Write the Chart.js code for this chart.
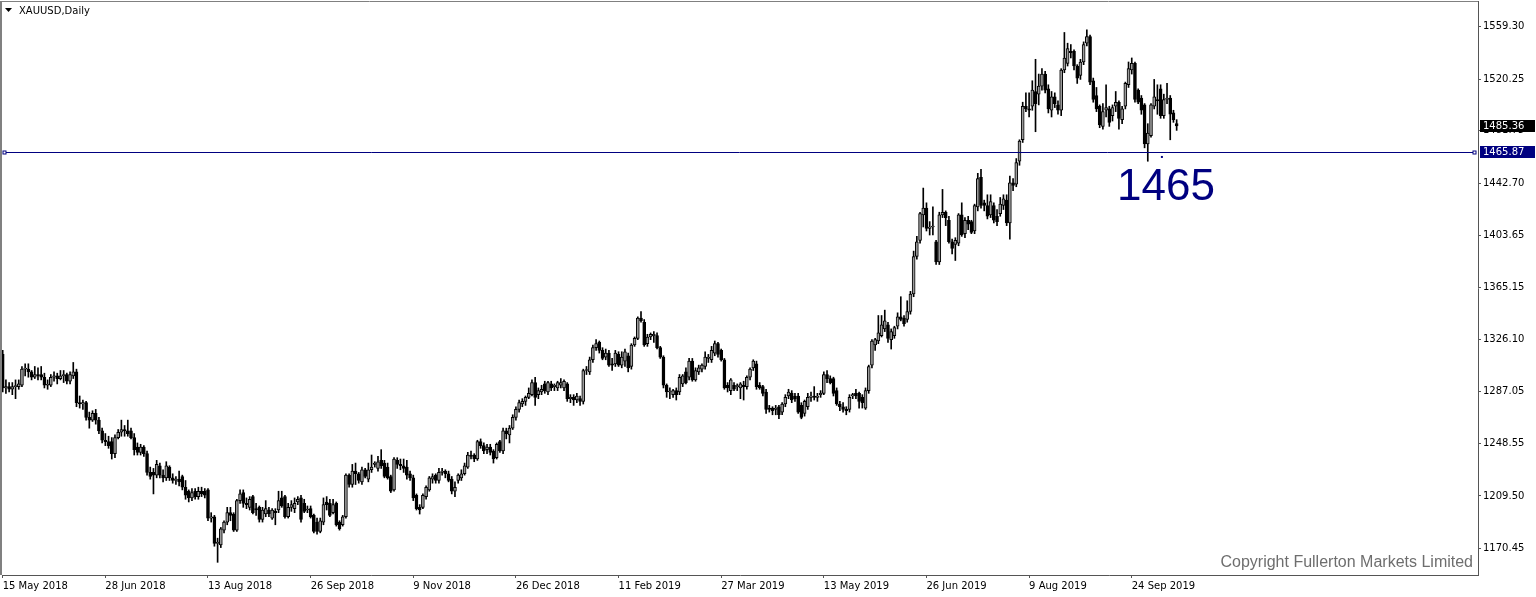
<!DOCTYPE html>
<html>
<head>
<meta charset="utf-8">
<title>XAUUSD, Daily</title>
<script src="https://cdn.jsdelivr.net/npm/chart.js@4.4.1/dist/chart.umd.min.js"></script>
<style>
  html, body { margin: 0; padding: 0; background: #fff; }
</style>
</head>
<body>
<canvas id="chart" width="1536" height="597"></canvas>
<script>
const symbolTitle = "XAUUSD,Daily";
const copyrightText = "Copyright Fullerton Markets Limited";

// bar index where a date label sits, and the label text
const dateTicks = [0, 32, 64, 96, 128, 160, 192, 224, 256, 288, 320, 352];
const dateLabels = ["15 May 2018", "28 Jun 2018", "13 Aug 2018", "26 Sep 2018", "9 Nov 2018", "26 Dec 2018",
  "11 Feb 2019", "27 Mar 2019", "13 May 2019", "26 Jun 2019", "9 Aug 2019", "24 Sep 2019"];
const priceTicks = [1559.30, 1520.25, 1481.75, 1442.70, 1403.65, 1365.15, 1326.10, 1287.05, 1248.55, 1209.50, 1170.45];

// daily candles, one value per trading day
const opens = [
  1315,1290,1291,1289,1291,1291,1292,1304,1304,1302,
  1298,1300,1300,1298,1292,1292,1298,1299,1297,1299,
  1300,1295,1299,1302,1279,1278,1279,1268,1266,1271,
  1266,1258,1251,1250,1250,1241,1253,1257,1259,1258,
  1258,1253,1246,1242,1246,1241,1227,1227,1225,1232,
  1225,1223,1231,1223,1221,1222,1224,1216,1213,1208,
  1213,1209,1213,1213,1214,1193,1194,1174,1173,1184,
  1190,1197,1196,1184,1206,1212,1204,1201,1209,1200,
  1201,1192,1196,1199,1193,1198,1199,1208,1209,1194,
  1201,1200,1205,1208,1204,1199,1200,1195,1190,1183,
  1190,1205,1204,1197,1204,1190,1188,1194,1225,1218,
  1228,1226,1220,1229,1222,1229,1233,1230,1236,1234,
  1231,1224,1214,1236,1233,1232,1231,1226,1223,1210,
  1201,1201,1209,1214,1222,1225,1221,1227,1228,1226,
  1222,1213,1221,1223,1226,1231,1240,1240,1237,1250,
  1247,1244,1246,1243,1238,1250,1243,1258,1255,1260,
  1268,1274,1278,1280,1283,1285,1294,1285,1287,1293,
  1287,1293,1291,1290,1292,1290,1293,1282,1283,1281,
  1282,1280,1303,1302,1311,1320,1324,1318,1313,1316,
  1308,1308,1315,1307,1310,1314,1306,1322,1327,1342,
  1339,1323,1328,1329,1329,1320,1313,1292,1287,1285,
  1288,1287,1293,1302,1298,1310,1296,1302,1304,1306,
  1312,1311,1316,1323,1318,1311,1292,1288,1292,1291,
  1290,1292,1291,1298,1305,1308,1292,1291,1287,1275,
  1275,1274,1276,1272,1278,1284,1286,1284,1284,1277,
  1271,1276,1283,1284,1283,1285,1286,1300,1297,1297,
  1288,1278,1276,1274,1274,1284,1286,1286,1283,1275,
  1288,1307,1322,1325,1329,1334,1337,1326,1329,1336,
  1343,1342,1341,1347,1360,1388,1400,1419,1424,1409,
  1410,1399,1384,1419,1421,1415,1399,1397,1398,1419,
  1405,1415,1414,1407,1425,1447,1428,1426,1419,1426,
  1418,1420,1426,1430,1413,1443,1442,1459,1475,1500,
  1498,1500,1511,1509,1515,1524,1513,1497,1507,1501,
  1497,1527,1532,1541,1541,1530,1523,1533,1547,1552,
  1519,1508,1500,1485,1497,1498,1493,1500,1503,1490,
  1500,1516,1527,1532,1512,1506,1501,1472,1478,1500,
  1505,1513,1493,1505,1506,1495,1487
];
const highs = [
  1318,1296,1294,1294,1296,1296,1306,1308,1308,1303,
  1306,1305,1306,1301,1296,1300,1302,1301,1303,1303,
  1301,1302,1309,1304,1284,1281,1280,1272,1273,1274,
  1268,1260,1256,1254,1253,1255,1259,1266,1262,1266,
  1260,1256,1249,1248,1247,1243,1231,1230,1236,1234,
  1229,1235,1232,1226,1224,1228,1225,1221,1214,1215,
  1215,1216,1216,1215,1215,1197,1195,1178,1186,1191,
  1201,1201,1197,1207,1214,1214,1208,1209,1210,1204,
  1202,1201,1206,1201,1200,1200,1213,1213,1210,1204,
  1206,1208,1209,1210,1207,1202,1202,1196,1193,1193,
  1208,1209,1207,1207,1205,1191,1195,1226,1226,1233,
  1234,1227,1231,1230,1234,1240,1235,1239,1244,1236,
  1234,1225,1238,1238,1237,1237,1236,1228,1225,1211,
  1203,1211,1217,1224,1226,1226,1230,1230,1229,1228,
  1224,1220,1226,1229,1234,1242,1243,1241,1251,1252,
  1249,1248,1248,1244,1249,1251,1260,1260,1262,1270,
  1276,1281,1282,1284,1290,1296,1298,1290,1292,1295,
  1295,1295,1293,1295,1297,1296,1294,1285,1285,1286,
  1284,1304,1306,1313,1322,1326,1325,1320,1319,1318,
  1312,1318,1317,1317,1319,1316,1323,1328,1343,1347,
  1341,1330,1331,1332,1331,1321,1314,1293,1290,1289,
  1290,1300,1300,1305,1312,1312,1305,1307,1308,1317,
  1315,1321,1325,1324,1319,1312,1294,1297,1294,1293,
  1294,1295,1299,1305,1311,1310,1294,1292,1289,1277,
  1276,1277,1277,1279,1285,1289,1288,1286,1286,1279,
  1281,1286,1287,1291,1286,1288,1302,1303,1299,1298,
  1290,1280,1279,1276,1285,1286,1289,1287,1285,1290,
  1307,1326,1327,1344,1344,1348,1339,1334,1336,1346,
  1358,1344,1355,1362,1392,1403,1421,1439,1428,1414,
  1425,1400,1421,1438,1422,1418,1401,1402,1420,1428,
  1417,1418,1415,1427,1450,1453,1430,1434,1434,1428,
  1423,1432,1434,1434,1448,1446,1461,1475,1503,1510,
  1510,1519,1535,1524,1528,1526,1516,1511,1510,1504,
  1528,1555,1547,1546,1542,1531,1535,1548,1557,1553,
  1521,1514,1501,1502,1516,1500,1501,1511,1504,1500,
  1518,1533,1536,1533,1513,1508,1502,1487,1502,1520,
  1516,1516,1509,1517,1508,1497,1490
];
const lows = [
  1287,1286,1287,1285,1282,1289,1291,1299,1298,1296,
  1297,1296,1296,1290,1289,1291,1295,1293,1296,1294,
  1293,1293,1297,1276,1275,1274,1266,1260,1265,1263,
  1256,1249,1247,1245,1237,1238,1252,1254,1254,1254,
  1252,1240,1240,1240,1239,1225,1222,1211,1223,1223,
  1220,1221,1221,1219,1218,1217,1214,1207,1205,1206,
  1207,1207,1209,1208,1191,1190,1172,1160,1171,1182,
  1188,1191,1183,1183,1204,1201,1200,1199,1196,1195,
  1190,1190,1194,1194,1192,1188,1197,1201,1193,1193,
  1198,1197,1203,1190,1197,1197,1193,1182,1181,1182,
  1188,1199,1194,1196,1187,1184,1187,1193,1216,1216,
  1218,1219,1218,1223,1220,1227,1231,1228,1230,1223,
  1222,1212,1213,1230,1229,1227,1222,1221,1206,1199,
  1196,1200,1207,1213,1219,1219,1219,1225,1223,1220,
  1211,1209,1219,1221,1225,1230,1237,1235,1236,1245,
  1241,1241,1240,1234,1237,1242,1241,1252,1249,1259,
  1266,1272,1276,1277,1282,1284,1277,1282,1285,1286,
  1285,1288,1288,1288,1290,1288,1280,1279,1277,1279,
  1277,1278,1300,1300,1309,1318,1316,1311,1311,1306,
  1303,1306,1306,1305,1306,1302,1304,1321,1326,1339,
  1321,1321,1326,1324,1319,1312,1290,1283,1282,1283,
  1281,1285,1291,1293,1296,1295,1295,1300,1302,1304,
  1309,1309,1314,1313,1310,1289,1287,1285,1288,1288,
  1282,1281,1289,1296,1303,1289,1289,1284,1271,1272,
  1270,1270,1267,1270,1276,1282,1279,1280,1271,1267,
  1269,1274,1280,1281,1280,1283,1285,1294,1293,1284,
  1277,1273,1272,1270,1272,1282,1282,1275,1275,1274,
  1286,1305,1318,1323,1328,1332,1324,1319,1327,1334,
  1340,1336,1339,1345,1358,1386,1398,1410,1407,1404,
  1404,1382,1382,1417,1411,1398,1390,1385,1396,1403,
  1402,1408,1405,1405,1422,1424,1422,1416,1417,1413,
  1411,1418,1423,1411,1401,1437,1440,1456,1473,1496,
  1492,1497,1481,1501,1512,1510,1495,1492,1499,1494,
  1493,1525,1530,1536,1527,1517,1520,1531,1545,1516,
  1503,1496,1484,1483,1492,1485,1489,1496,1483,1487,
  1498,1514,1524,1503,1502,1494,1469,1459,1477,1498,
  1494,1491,1491,1502,1475,1488,1482
];
const closes = [
  1290,1291,1289,1291,1291,1293,1304,1304,1302,1298,
  1300,1299,1298,1292,1292,1298,1299,1297,1299,1300,
  1295,1300,1302,1279,1278,1279,1268,1266,1271,1266,
  1258,1251,1250,1247,1241,1253,1257,1259,1258,1256,
  1253,1244,1242,1246,1241,1227,1224,1225,1233,1225,
  1223,1232,1223,1221,1222,1220,1216,1210,1208,1212,
  1209,1213,1211,1210,1193,1194,1174,1175,1185,1190,
  1197,1195,1184,1206,1211,1204,1203,1207,1197,1199,
  1192,1199,1200,1196,1199,1197,1206,1202,1194,1201,
  1203,1204,1207,1192,1198,1199,1194,1183,1183,1191,
  1203,1203,1195,1203,1188,1185,1194,1225,1218,1228,
  1226,1221,1229,1224,1229,1231,1234,1235,1232,1224,
  1223,1213,1237,1233,1232,1230,1225,1223,1208,1200,
  1199,1210,1216,1223,1224,1221,1227,1228,1226,1221,
  1213,1216,1225,1226,1232,1240,1239,1237,1250,1247,
  1243,1246,1242,1237,1248,1243,1258,1256,1260,1268,
  1274,1279,1280,1283,1286,1294,1283,1288,1289,1288,
  1294,1290,1292,1294,1294,1295,1282,1283,1281,1284,
  1280,1303,1303,1311,1320,1323,1318,1312,1316,1307,
  1307,1316,1307,1313,1317,1305,1322,1327,1342,1340,
  1322,1328,1330,1330,1320,1313,1292,1287,1287,1288,
  1285,1298,1299,1294,1310,1296,1303,1305,1307,1313,
  1313,1318,1323,1315,1311,1290,1290,1296,1289,1291,
  1293,1291,1298,1304,1310,1291,1290,1286,1274,1274,
  1273,1275,1270,1278,1283,1287,1281,1282,1272,1268,
  1280,1283,1284,1283,1284,1286,1300,1297,1294,1286,
  1278,1276,1274,1273,1283,1285,1284,1280,1279,1288,
  1306,1325,1326,1331,1337,1340,1327,1332,1335,1343,
  1341,1338,1347,1360,1388,1399,1420,1424,1409,1410,
  1410,1384,1419,1421,1417,1399,1394,1400,1419,1404,
  1415,1412,1406,1426,1446,1426,1426,1418,1429,1415,
  1414,1427,1431,1413,1443,1441,1458,1474,1500,1498,
  1497,1512,1502,1515,1524,1512,1498,1507,1502,1497,
  1527,1536,1543,1540,1530,1521,1533,1546,1552,1518,
  1505,1498,1486,1496,1499,1488,1499,1503,1491,1498,
  1517,1528,1532,1505,1503,1497,1472,1480,1501,1507,
  1504,1493,1505,1506,1494,1490,1485.36
];

// horizontal level drawn by the analyst and its caption
const levelPrice = 1465.87;
const levelCaption = "1465";
const captionBar = 347.4, captionPrice = 1430;
const anchorBar = 361.4, anchorPrice = 1462.2;

const NAVY = "#000080";
const AXIS_FONT = "10px 'DejaVu Sans'";

const bars = opens.map((_, i) => i);
const isUp = i => closes[i] >= opens[i];

const wickData = bars.map(i => ({ x: i, y: [lows[i], highs[i]] }));
const bodyData = bars.map(i => ({ x: i, y: [opens[i], closes[i]] }));

const mt4Overlay = {
  id: "mt4Overlay",
  afterDraw(chart) {
    const { ctx, chartArea: a, scales: { x, y } } = chart;
    ctx.save();

    // frame top and left (axes draw bottom and right)
    ctx.strokeStyle = "#808080";
    ctx.lineWidth = 1;
    ctx.beginPath();
    ctx.moveTo(0, a.top + 0.5);
    ctx.lineTo(a.right, a.top + 0.5);
    ctx.stroke();
    ctx.fillStyle = "#808080";
    ctx.fillRect(0, a.top, 2, a.bottom - a.top);

    // title
    ctx.fillStyle = "#000";
    ctx.beginPath();
    ctx.moveTo(5, 8);
    ctx.lineTo(12, 8);
    ctx.lineTo(8.5, 12);
    ctx.closePath();
    ctx.fill();
    ctx.font = AXIS_FONT;
    ctx.textBaseline = "middle";
    ctx.textAlign = "left";
    ctx.fillText(symbolTitle, 19, 11);

    // level line with its end handles
    const ly = Math.round(y.getPixelForValue(levelPrice)) + 0.5;
    ctx.strokeStyle = NAVY;
    ctx.lineWidth = 1;
    ctx.beginPath();
    ctx.moveTo(a.left + 1, ly);
    ctx.lineTo(a.right - 2, ly);
    ctx.stroke();
    ctx.fillStyle = "#fff";
    [a.left + 2.5, a.right - 3.5].forEach(hx => {
      ctx.fillRect(hx - 1.5, ly - 1.5, 3, 3);
      ctx.strokeRect(hx - 1.5, ly - 1.5, 3, 3);
    });

    // caption and its anchor dot
    ctx.fillStyle = NAVY;
    ctx.font = "44px 'Liberation Sans', Arial, sans-serif";
    ctx.textBaseline = "alphabetic";
    ctx.fillText(levelCaption, x.getPixelForValue(captionBar), y.getPixelForValue(captionPrice));
    ctx.fillRect(x.getPixelForValue(anchorBar) - 1, y.getPixelForValue(anchorPrice) - 1, 2, 2);

    // price tags on the axis
    const tag = (price, bg) => {
      const ty = Math.round(y.getPixelForValue(price));
      ctx.fillStyle = bg;
      ctx.fillRect(y.left + 2, ty - 6, 55, 12);
      ctx.fillStyle = "#fff";
      ctx.font = AXIS_FONT;
      ctx.textBaseline = "middle";
      ctx.textAlign = "left";
      ctx.fillText(price.toFixed(2), y.left + 5, ty + 0.5);
    };
    tag(closes[closes.length - 1], "#000");
    tag(levelPrice, NAVY);

    // copyright
    ctx.fillStyle = "#6e6e6e";
    ctx.font = "16px 'Liberation Sans', Arial, sans-serif";
    ctx.textAlign = "right";
    ctx.textBaseline = "alphabetic";
    ctx.fillText(copyrightText, a.right - 5, a.bottom - 8);

    ctx.restore();
  }
};

new Chart(document.getElementById("chart"), {
  type: "bar",
  data: {
    datasets: [
      {
        label: "body",
        data: bodyData,
        order: 0,
        grouped: false,
        barThickness: 3,
        minBarLength: 1,
        backgroundColor: c => isUp(c.dataIndex) ? "#9a9a9a" : "#000000",
        borderColor: "#000000",
        borderWidth: 1,
        borderSkipped: false,
      },
      {
        label: "wick",
        data: wickData,
        order: 1,
        grouped: false,
        barThickness: 1,
        backgroundColor: "#000000",
        borderWidth: 0,
      }
    ]
  },
  options: {
    responsive: false,
    animation: false,
    devicePixelRatio: 1,
    events: [],
    layout: { padding: { left: 2, top: 1, right: 0, bottom: 0 } },
    plugins: {
      legend: { display: false },
      tooltip: { enabled: false },
    },
    scales: {
      x: {
        type: "linear",
        offset: false,
        min: -0.22,
        max: 459.95,
        grid: { offset: false, drawOnChartArea: false, drawTicks: true, tickLength: 3, color: "#555" },
        border: { display: true, color: "#555" },
        ticks: {
          autoSkip: false,
          maxRotation: 0,
          align: "start",
          padding: 2,
          color: "#000",
          font: { family: "DejaVu Sans", size: 10 },
          callback: v => {
            const k = dateTicks.indexOf(v);
            return k >= 0 ? dateLabels[k] : "";
          }
        },
        afterBuildTicks: s => { s.ticks = dateTicks.map(v => ({ value: v })); },
        afterFit: s => { s.height = 22; s.paddingLeft = 0; s.paddingRight = 0; },
      },
      y: {
        position: "right",
        min: 1150.55,
        max: 1578.46,
        grid: { drawOnChartArea: false, drawTicks: true, tickLength: 3, color: "#555" },
        border: { display: true, color: "#555" },
        ticks: {
          padding: 2,
          color: "#000",
          font: { family: "DejaVu Sans", size: 10 },
          callback: v => Number(v).toFixed(2)
        },
        afterBuildTicks: s => { s.ticks = priceTicks.map(v => ({ value: v })); },
        afterFit: s => { s.width = 58; s.paddingTop = 0; s.paddingBottom = 0; },
      }
    }
  },
  plugins: [mt4Overlay]
});
</script>
</body>
</html>
